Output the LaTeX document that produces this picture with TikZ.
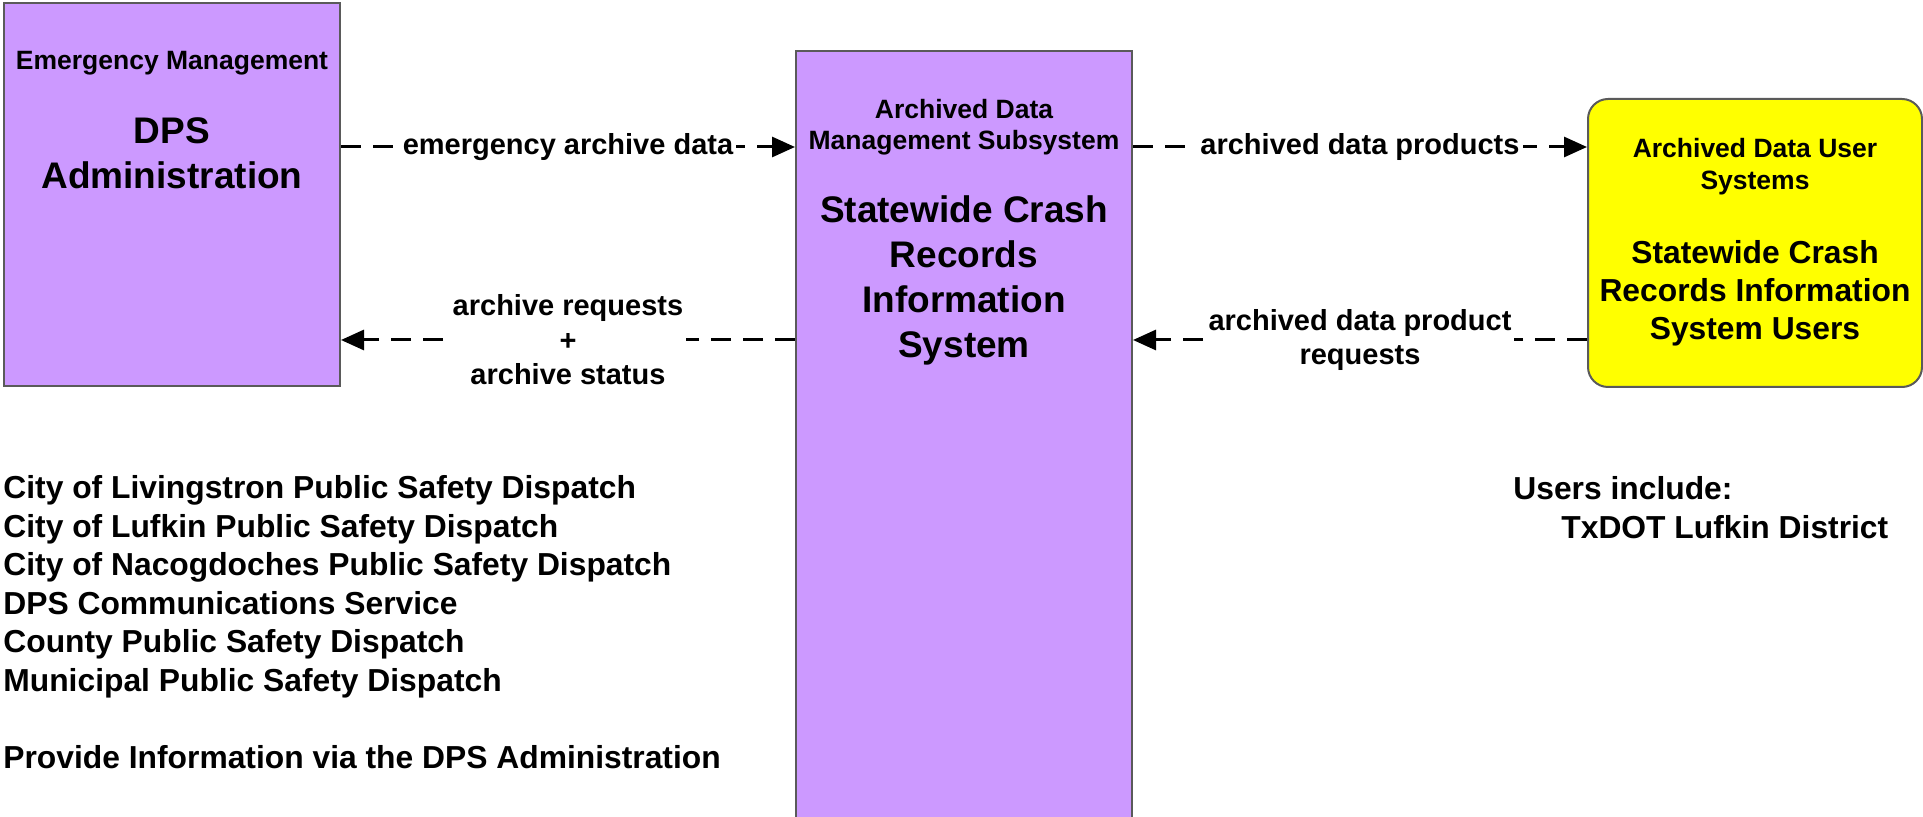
\documentclass[tikz,border=0pt]{standalone}
\usepackage{fontspec}
\setmainfont{Liberation Sans}
\usetikzlibrary{arrows.meta, positioning}
\definecolor{my_purple}{RGB}{204, 153, 255}
\definecolor{my_yellow}{RGB}{255, 255, 0}
\definecolor{my_border}{RGB}{90, 90, 90}
\newcommand{\boxtitlefont}{\fontsize{13.25}{15.7}\selectfont\bfseries}
\newcommand{\boxnamefont}{\fontsize{18.5}{22.5}\selectfont\bfseries}
\newcommand{\usernamefont}{\fontsize{15.9}{19.2}\selectfont\bfseries}
\newcommand{\flowfont}{\fontsize{14.5}{17.2}\selectfont\bfseries}
\newcommand{\notesfont}{\fontsize{15.9}{19.25}\selectfont\bfseries}
\tikzset {
  sysbox/.style = {draw=my_border, line width=1pt, fill=my_purple, rectangle, inner sep=0pt},
  userbox/.style = {draw=my_border, line width=1pt, fill=my_yellow, rectangle, rounded corners=10pt, inner sep=0pt},
  boxtitle/.style = {align=center, inner sep=0pt, anchor=base, font=\boxtitlefont},
  boxname/.style = {align=center, inner sep=0pt, anchor=base, font=\boxnamefont},
  flow/.style = {-{Triangle[length=11.5pt, width=10pt]}, line width=1.5pt, dash pattern=on 10pt off 6pt},
  flowlabel/.style = {fill=white, inner sep=1.5pt, align=center, font=\flowfont},
  notes/.style = {align=left, inner sep=0pt, anchor=base west, font=\notesfont},
}

\begin{document}
\begin{tikzpicture}[x=0.5pt, y=-0.5pt]
    \useasboundingbox (0,0) rectangle (1923,817);

    \node[sysbox, minimum width=168pt, minimum height=191.5pt] (dps) at (172,195) {};
    \node[sysbox, minimum width=168pt, minimum height=385.5pt] (adms) at (964,436.5) {};
    \node[userbox, minimum width=167pt, minimum height=144pt] (users) at (1755,243) {};

    % multi-line nodes sit on the baseline of their last line
    \node[boxtitle] (dpsrole) at (172,70) {Emergency Management};
    \node[boxname] (dpsname) at (172,188.3) {DPS\\Administration};
    \node[boxtitle] (admsrole) at (964,149.7) {Archived Data\\Management Subsystem};
    \node[boxname] (admsname) at (964,357.7) {Statewide Crash\\Records\\Information\\System};
    \node[boxtitle] (usersrole) at (1755,189.3) {Archived Data User\\Systems};
    \node[boxname, font=\usernamefont] (usersname) at (1755,340) {Statewide Crash\\Records Information\\System Users};

    \coordinate (topflow) at (0,147);
    \coordinate (botflow) at (0,340);

    \draw[flow] (dps.east |- topflow) -- node[flowlabel] (emdata) {emergency archive data} (adms.west |- topflow);
    \draw[flow] (adms.west |- botflow) -- node[flowlabel] (archreq) {archive requests\\+\\archive status} (dps.east |- botflow);
    \draw[flow] (adms.east |- topflow) -- node[flowlabel] (products) {archived data products} (users.west |- topflow);
    \draw[flow] (users.west |- botflow) -- node[flowlabel] (prodreq) {archived data product\\requests} (adms.east |- botflow);

    \node[notes] (dispatch) at (3,768.3) {City of Livingstron Public Safety Dispatch\\City of Lufkin Public Safety Dispatch\\City of Nacogdoches Public Safety Dispatch\\DPS Communications Service\\County Public Safety Dispatch\\Municipal Public Safety Dispatch\\[19.25pt]Provide Information via the DPS Administration};
    \node[notes] (userlist) at (1513,538.3) {Users include:\\\hspace*{24pt}TxDOT Lufkin District};
\end{tikzpicture}
\end{document}
